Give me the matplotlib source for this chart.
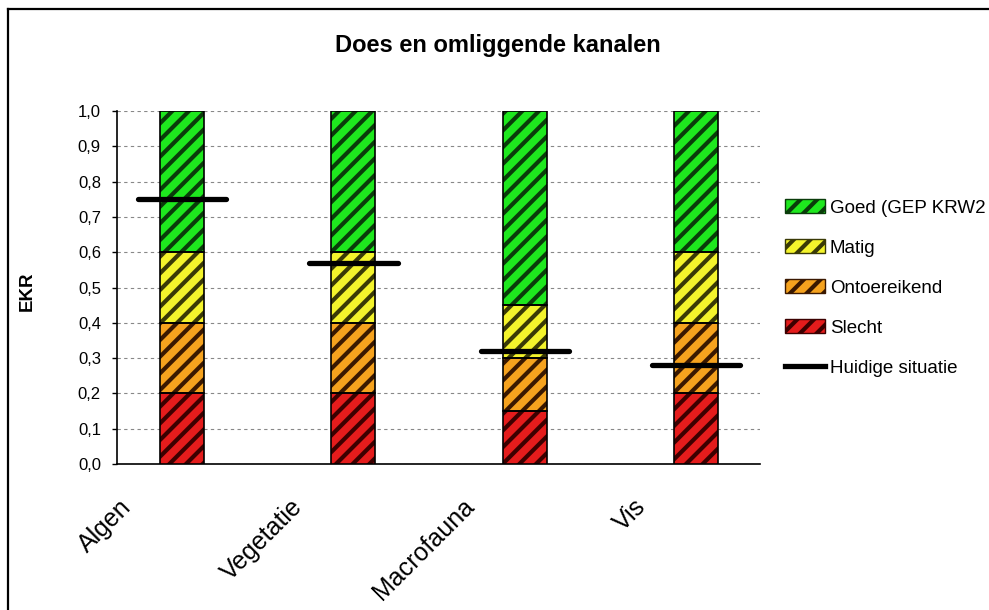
import matplotlib
matplotlib.use('Agg')
import matplotlib.pyplot as plt
import matplotlib.transforms as mtransforms
from matplotlib.patches import Patch
from matplotlib.lines import Line2D
import numpy as np

categories = ['Algen', 'Vegetatie', 'Macrofauna', 'Vis']
slecht = [0.2, 0.2, 0.15, 0.2]
ontoereikend = [0.2, 0.2, 0.15, 0.2]
matig = [0.2, 0.2, 0.15, 0.2]
goed = [0.4, 0.4, 0.55, 0.4]
huidig = [0.75, 0.57, 0.32, 0.28]

series = [
    ('Slecht', slecht, '#e41c1c', '#3c0000'),
    ('Ontoereikend', ontoereikend, '#f5a21e', '#3a1800'),
    ('Matig', matig, '#f4f42c', '#3a3a06'),
    ('Goed (GEP KRW2', goed, '#1ee81e', '#0a3c0a'),
]

plt.rcParams['font.family'] = ['Liberation Sans', 'DejaVu Sans']
plt.rcParams['hatch.linewidth'] = 3.0


def main():
    fig = plt.figure(figsize=(9.89, 6.1), dpi=100)
    ax = fig.add_axes([0.1183, 0.2393, 0.650, 0.5787])

    x = np.arange(len(categories))
    width = 0.257
    bottom = np.zeros(len(categories))
    handles = {}
    for name, vals, fc, hc in series:
        ax.bar(x, vals, width, bottom=bottom, color=fc, edgecolor=hc,
               hatch='//', linewidth=0, zorder=3)
        ax.bar(x, vals, width, bottom=bottom, facecolor='none',
               edgecolor='black', linewidth=1.2, zorder=4)
        handles[name] = Patch(facecolor=fc, edgecolor=hc, hatch='//',
                              linewidth=1.0)
        bottom = bottom + np.array(vals)

    ax.hlines(huidig, x - 0.257, x + 0.257, colors='black', linewidth=3.8,
              zorder=5, capstyle='round')

    ax.set_xlim(-0.379, 3.37)
    ax.set_ylim(0, 1.0)
    yt = np.arange(0, 1.01, 0.1)
    ax.set_yticks(yt)
    ax.set_yticklabels([('%.1f' % v).replace('.', ',') for v in yt], fontsize=12)
    ax.tick_params(axis='y', length=3.6, width=1, direction='out', pad=8)
    ax.yaxis.grid(True, linestyle=(0, (3, 3)), color='#888888', linewidth=0.8,
                  zorder=0)
    ax.set_axisbelow(True)
    for s in ['top', 'right']:
        ax.spines[s].set_visible(False)
    ax.spines['left'].set_linewidth(1.2)
    ax.spines['bottom'].set_linewidth(1.2)

    ax.set_xticks(x)
    ax.set_xticklabels(categories, rotation=45, ha='right', va='top',
                       rotation_mode='anchor', fontsize=18)
    ax.tick_params(axis='x', length=0, pad=22)
    offset = mtransforms.ScaledTranslation(-0.63, 0, fig.dpi_scale_trans)
    for lab in ax.get_xticklabels():
        lab.set_transform(lab.get_transform() + offset)

    ax.set_ylabel('EKR', fontsize=13.5, fontweight='bold')
    ax.yaxis.set_label_coords(-0.126, 0.49)
    fig.text(0.503, 0.925, 'Does en omliggende kanalen', ha='center',
             va='center', fontsize=17, fontweight='bold')

    order = ['Goed (GEP KRW2', 'Matig', 'Ontoereikend', 'Slecht']
    hl = [handles[n] for n in order] + [Line2D([0], [0], color='black', linewidth=3.8)]
    fig.legend(hl, order + ['Huidige situatie'], loc='upper left',
               bbox_to_anchor=(0.7937, 0.673), frameon=False, fontsize=13.5,
               handlelength=2.15, handleheight=0.75, labelspacing=1.2,
               handletextpad=0.25, borderpad=0, borderaxespad=0)

    # outer frame of the chart area
    fig.add_artist(Line2D([0.0085, 0.0085], [0.0, 0.985], color='black',
                          linewidth=1.6, transform=fig.transFigure))
    fig.add_artist(Line2D([0.0085, 1.0], [0.985, 0.985], color='black',
                          linewidth=1.6, transform=fig.transFigure))

    plt.savefig('out.png', dpi=100)


if __name__ == "__main__":
    main()
